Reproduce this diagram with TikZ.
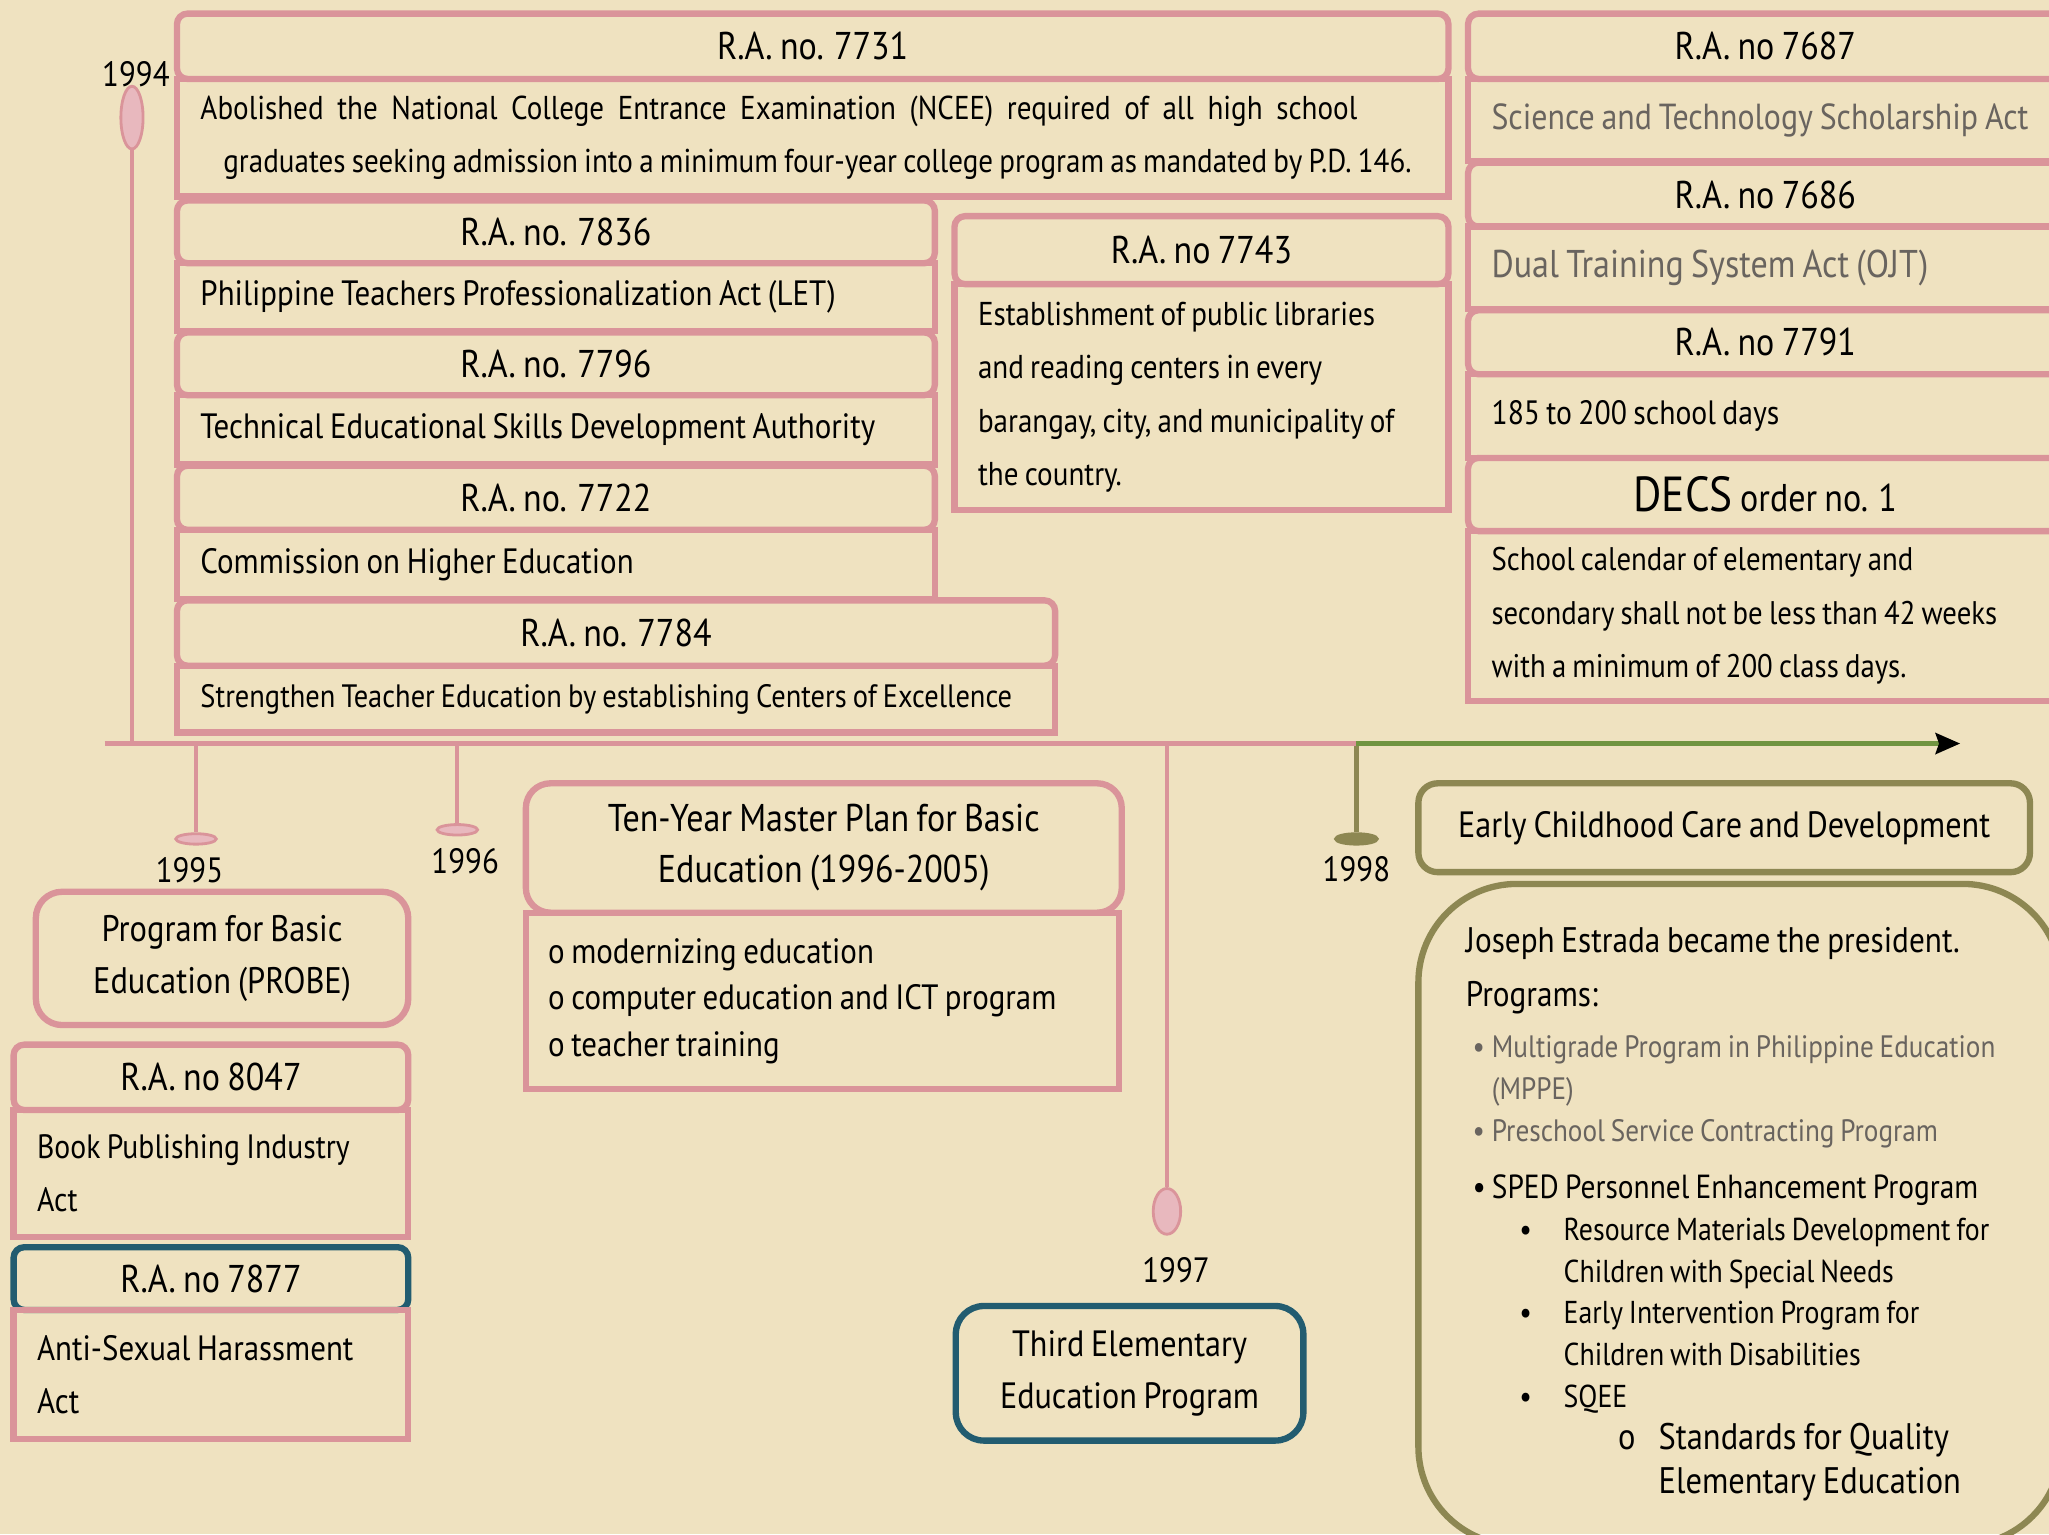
\documentclass[tikz,border=0pt]{standalone}
\usepackage{fontspec}
\setmainfont{PT Sans}[FakeStretch=0.88, WordSpace=0.8]
\usepackage{xcolor}
\usetikzlibrary{arrows.meta,shapes.geometric}

\definecolor{parch}{RGB}{239,226,192}
\definecolor{pinkln}{RGB}{218,148,154}
\definecolor{pinkfill}{RGB}{232,184,190}
\definecolor{tealln}{RGB}{34,92,112}
\definecolor{oliveln}{RGB}{141,135,82}
\definecolor{greenln}{RGB}{112,148,64}
\definecolor{graytxt}{RGB}{105,100,95}

\newcommand{\pxu}{0.013068cm}
\newcommand{\hdrfont}{\fontsize{11}{13}\selectfont}
\newcommand{\bodyfont}{\fontsize{10}{15}\selectfont}
\newcommand{\lvla}{\hspace*{1.9pt}\makebox[5.5pt][l]{\textbullet}}
\newcommand{\lvlb}{\hspace*{15.2pt}\makebox[12.6pt][l]{\textbullet}}
\newcommand{\lvlc}{\hspace*{43.3pt}\makebox[11.5pt][l]{o}}

\tikzset{
	hdrbox/.style 2 args={draw=pinkln, line width=1.8pt, rounded corners=3pt,
		anchor=north west, minimum width=#1*\pxu, minimum height=#2*\pxu,
		inner sep=0pt, font=\hdrfont},
	bodybox/.style 2 args={draw=pinkln, line width=1.8pt, anchor=north west,
		text width=(#1-36)*\pxu, minimum height=#2*\pxu, inner xsep=18*\pxu,
		inner ysep=0pt, align=left, font=\bodyfont,
		execute at begin node={\spaceskip=0pt\xspaceskip=0pt\relax}},
	bigbox/.style={line width=1.8pt, anchor=north west, align=center, inner sep=0pt},
	stem/.style={line width=1.2pt, draw=pinkln},
	yrmark/.style 2 args={ellipse, draw=pinkln, fill=pinkfill, line width=0.8pt,
		inner sep=0pt, minimum width=#1*\pxu, minimum height=#2*\pxu},
	yr/.style={font=\fontsize{10}{12}\selectfont, inner sep=0pt}
}

\begin{document}
\begin{tikzpicture}[x=\pxu, y=-\pxu]
	\useasboundingbox (0,0) rectangle (1568,1174);
	\clip (0,0) rectangle (1568,1174);
	\fill[parch] (0,0) rectangle (1568,1174);

	\coordinate (tl0)   at (80, 569);
	\coordinate (t94)   at (101, 569);
	\coordinate (t95)   at (150, 569);
	\coordinate (t96)   at (350, 569);
	\coordinate (t97)   at (893, 569);
	\coordinate (t98)   at (1038, 569);
	\coordinate (tlend) at (1500, 569);

	\node[yrmark={17}{48}]  (m94) at (101, 90) {};
	\node[yrmark={31}{8}]   (m95) at (150, 642) {};
	\node[yrmark={31}{8}]   (m96) at (350, 635) {};
	\node[yrmark={21}{35}]  (m97) at (893, 927) {};
	\node[yrmark={32}{8}, draw=oliveln, fill=oliveln] (m98) at (1038, 642) {};

	\node[yr] (y94) at (104, 57)  {1994};
	\node[yr] (y95) at (145, 666) {1995};
	\node[yr] (y96) at (356, 659) {1996};
	\node[yr] (y97) at (900, 972) {1997};
	\node[yr] (y98) at (1038, 665) {1998};

	\draw[stem] (m94.south) -- (t94);
	\draw[stem] (t95) -- (m95.north);
	\draw[stem] (t96) -- (m96.north);
	\draw[stem] (t97) -- (m97.north);
	\draw[stem, draw=oliveln] (t98) -- (m98.north);
	\draw[stem] (tl0) -- (t98);
	\draw[line width=1.2pt, greenln, -{Stealth[length=7pt, width=6pt, inset=1pt, color=black]}]
		(t98) -- (tlend);

	\node[hdrbox={973}{50}] (ra7731) at (133, 8) {R.A. no. 7731};
	\node[bodybox={973}{90}, font=\fontsize{9.4}{15}\selectfont] (ra7731txt) at (133, 58)
		{\makebox[329pt][s]{Abolished the National College Entrance Examination (NCEE) required of all high school}\\
		\mbox{\hspace*{6.5pt}graduates seeking admission into a minimum four-year college program as mandated by P.D. 146.}};

	\node[hdrbox={580}{48}] (ra7836) at (133, 151) {R.A. no. 7836};
	\node[bodybox={580}{52}] (ra7836txt) at (133, 199) {Philippine Teachers Professionalization Act (LET)};
	\node[hdrbox={580}{48}] (ra7796) at (133, 252) {R.A. no. 7796};
	\node[bodybox={580}{53}] (ra7796txt) at (133, 300) {Technical Educational Skills Development Authority};
	\node[hdrbox={580}{49}] (ra7722) at (133, 354) {R.A. no. 7722};
	\node[bodybox={580}{53}] (ra7722txt) at (133, 403) {Commission on Higher Education};
	\node[hdrbox={672}{50}] (ra7784) at (133, 457) {R.A. no. 7784};
	\node[bodybox={672}{51}, font=\fontsize{9.2}{15}\selectfont] (ra7784txt) at (133, 507)
		{\mbox{Strengthen Teacher Education by establishing Centers of Excellence}};

	\node[hdrbox={378}{52}] (ra7743) at (728, 163) {R.A. no 7743};
	\node[bodybox={378}{173}, font=\fontsize{9.4}{15.2}\selectfont] (ra7743txt) at (728, 215)
		{Establishment of public libraries\\and reading centers in every\\barangay, city, and municipality of\\the country.};

	\node[hdrbox={455}{50}] (ra7687) at (1121, 8) {R.A. no 7687};
	\node[bodybox={455}{63}, text=graytxt, font=\fontsize{10.3}{15}\selectfont] (ra7687txt) at (1121, 58)
		{\mbox{Science and Technology Scholarship Act}};
	\node[hdrbox={455}{49}] (ra7686) at (1121, 122) {R.A. no 7686};
	\node[bodybox={455}{63}, text=graytxt, font=\fontsize{11}{15}\selectfont] (ra7686txt) at (1121, 171)
		{Dual Training System Act (OJT)};
	\node[hdrbox={455}{49}] (ra7791) at (1121, 235) {R.A. no 7791};
	\node[bodybox={455}{64}, font=\fontsize{9.6}{15}\selectfont] (ra7791txt) at (1121, 284) {185 to 200 school days};
	\node[hdrbox={455}{56}] (decs) at (1121, 348) {{\fontsize{14}{16}\selectfont DECS} order no. 1};
	\node[bodybox={455}{130}, font=\fontsize{9.3}{15.2}\selectfont] (decstxt) at (1121, 404)
		{School calendar of elementary and\\\mbox{secondary shall not be less than 42 weeks}\\with a minimum of 200 class days.};

	\node[bigbox, draw=pinkln, rounded corners=7.5pt, minimum width=285*\pxu, minimum height=102*\pxu,
		font=\fontsize{10.5}{14.8}\selectfont] (probe) at (25, 680) {Program for Basic\\Education (PROBE)};
	\node[hdrbox={302}{50}] (ra8047) at (8, 797) {R.A. no 8047};
	\node[bodybox={302}{97}, font=\fontsize{9.6}{15}\selectfont] (ra8047txt) at (8, 847) {Book Publishing Industry\\Act};
	\node[hdrbox={302}{48}, draw=tealln] (ra7877) at (8, 952) {R.A. no 7877};
	\node[bodybox={302}{99}] (ra7877txt) at (8, 1000) {Anti-Sexual Harassment\\Act};

	\node[bigbox, draw=pinkln, rounded corners=7pt, minimum width=456*\pxu, minimum height=99*\pxu,
		font=\fontsize{11}{14.5}\selectfont] (tenyr) at (400, 597)
		{Ten-Year Master Plan for Basic\\Education (1996-2005)};
	\node[bodybox={456}{135}, inner xsep=17*\pxu, font=\fontsize{10}{13.2}\selectfont] (tenyrtxt) at (400, 696)
		{o modernizing education\\o computer education and ICT program\\o teacher training};

	\node[bigbox, draw=tealln, rounded corners=8pt, minimum width=266*\pxu, minimum height=103*\pxu,
		font=\fontsize{10.4}{14.8}\selectfont] (third) at (729, 997) {Third Elementary\\Education Program};

	\node[bigbox, draw=oliveln, rounded corners=5.5pt, minimum width=468*\pxu, minimum height=68*\pxu,
		font=\fontsize{10.4}{14}\selectfont] (eccd) at (1083, 597) {Early Childhood Care and Development};
	\node[bigbox, draw=oliveln, rounded corners=28pt, minimum width=492*\pxu, minimum height=506*\pxu,
		align=left, font=\fontsize{9}{11.9}\selectfont] (estrada) at (1083, 674)
		{{\fontsize{10.1}{11.9}\selectfont Joseph Estrada became the president.}\\[3.3pt]
		{\fontsize{10.1}{11.9}\selectfont Programs:}\\[2.6pt]
		{\fontsize{8.8}{11.9}\selectfont\color{graytxt}\lvla Multigrade Program in Philippine Education}\makebox[5.2pt]{}\\
		{\fontsize{8.8}{11.9}\selectfont\color{graytxt}\hspace*{7.4pt}(MPPE)}\\
		{\fontsize{8.8}{11.9}\selectfont\color{graytxt}\lvla Preschool Service Contracting Program}\\[4.4pt]
		{\fontsize{9.5}{11.9}\selectfont\lvla SPED Personnel Enhancement Program}\\
		\lvlb Resource Materials Development for\\
		\hspace*{27.8pt}Children with Special Needs\\
		\lvlb Early Intervention Program for\\
		\hspace*{27.8pt}Children with Disabilities\\
		\lvlb SQEE\\
		{\fontsize{10.5}{11.9}\selectfont\lvlc Standards for Quality}\\[0.7pt]
		{\fontsize{10.5}{11.9}\selectfont\hspace*{54.8pt}Elementary Education}};
\end{tikzpicture}
\end{document}
